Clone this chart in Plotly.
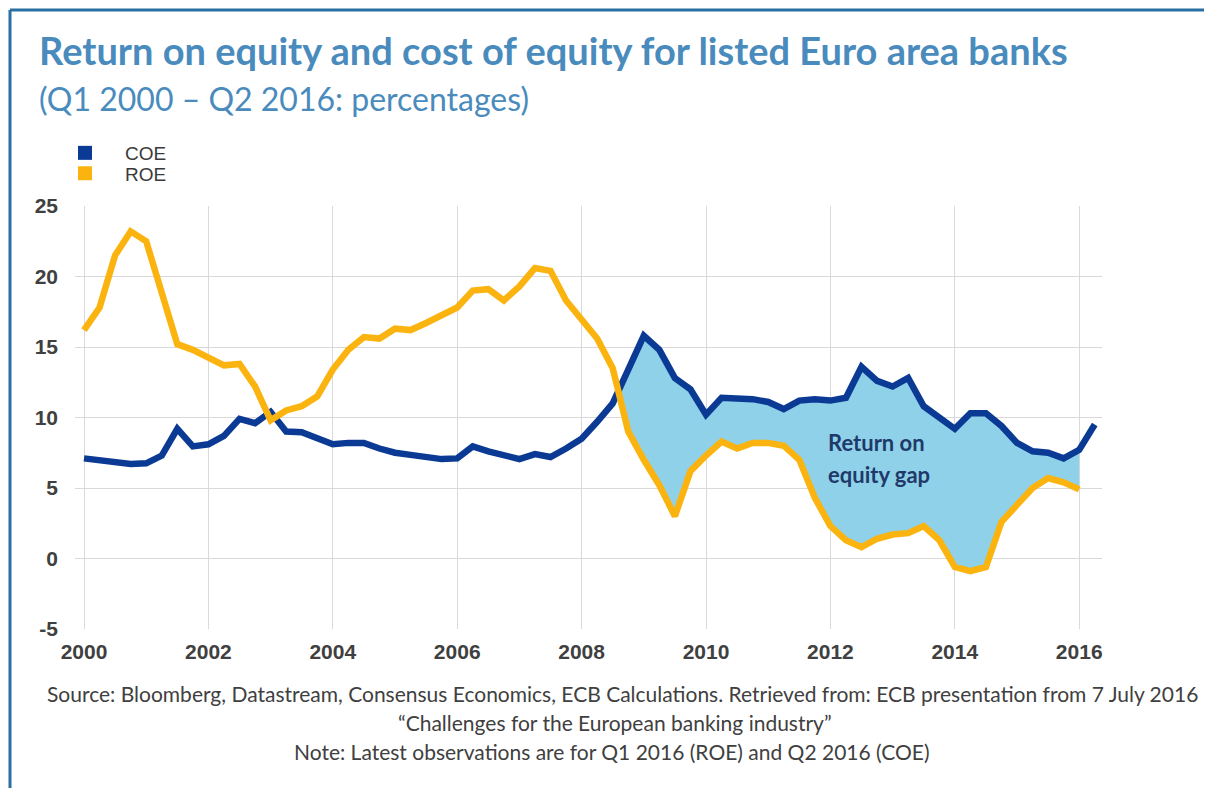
import plotly.graph_objects as go

# ---- data (quarterly, Q1 2000 onwards) ----
start_year = 2000
coe = [7.1, 7.0, 6.85, 6.7, 6.75, 7.3, 9.2, 7.95, 8.1, 8.7,
       9.9, 9.6, 10.4, 9.0, 8.95, 8.5, 8.1, 8.2, 8.2, 7.8,
       7.5, 7.35, 7.25, 7.05, 7.1, 7.95, 7.6, 7.3, 7.05, 7.4,
       7.2, 7.8, 8.5, 9.7, 11.0, 13.4, 15.8, 14.8, 12.8, 12.0,
       10.2, 11.4, 11.4, 11.3, 11.1, 10.6, 11.2, 11.3, 11.2, 11.4,
       13.6, 12.6, 12.2, 12.8, 10.8, 10.0, 9.2, 10.3, 10.3, 9.4,
       8.2, 7.6, 7.5, 7.1, 7.7, 9.5]
roe = [16.2, 17.8, 21.5, 23.2, 22.5, 19.0, 15.2, 14.8, 14.2, 13.7,
       13.8, 12.2, 9.8, 10.5, 10.8, 11.5, 13.4, 14.8, 15.7, 15.6,
       16.3, 16.2, 16.7, 17.2, 17.8, 19.0, 19.1, 18.3, 19.3, 20.6,
       20.4, 18.3, 16.9, 15.6, 13.5, 9.0, 7.0, 5.2, 3.0, 6.2,
       7.3, 8.3, 7.8, 8.2, 8.2, 8.0, 7.0, 4.3, 2.3, 1.3,
       0.8, 1.4, 1.7, 1.8, 2.3, 1.3, -0.6, -0.9, -0.6, 2.6,
       3.8, 5.0, 5.7, 5.4, 4.9]
x_coe = [start_year + i / 4 for i in range(len(coe))]
x_roe = [start_year + i / 4 for i in range(len(roe))]

x_ticks = list(range(2000, 2017, 2))
y_ticks = [-5, 0, 5, 10, 15, 20, 25]

title = "Return on equity and cost of equity for listed Euro area banks"
subtitle = "(Q1 2000 \u2013 Q2 2016: percentages)"
gap_label = ["Return on", "equity gap"]
notes = [
    "Source: Bloomberg, Datastream, Consensus Economics, ECB Calculations. Retrieved from: ECB presentation from 7 July 2016",
    "\u201cChallenges for the European banking industry\u201d",
    "Note: Latest observations are for Q1 2016 (ROE) and Q2 2016 (COE)",
]

COE_C = "#0B3A94"
ROE_C = "#FBB40F"
FILL_C = "#8FD1E8"

# ---- gap region: from last crossing (COE rising above ROE) to end of ROE ----
cross_idx = None
for i in range(len(roe) - 1):
    if coe[i] <= roe[i] and coe[i + 1] > roe[i + 1]:
        cross_idx = i
d0 = coe[cross_idx] - roe[cross_idx]
d1 = coe[cross_idx + 1] - roe[cross_idx + 1]
t = -d0 / (d1 - d0)
xc = x_roe[cross_idx] + t * 0.25
yc = roe[cross_idx] + t * (roe[cross_idx + 1] - roe[cross_idx])
gx = [xc] + x_roe[cross_idx + 1:]
g_low = [yc] + roe[cross_idx + 1:]
g_high = [yc] + coe[cross_idx + 1:len(roe)]

# ---- layout geometry (screen pixels; page body adds an 8px offset) ----
OFF = 8
W, H = 1212 - OFF, 796 - 2 * OFF
L, R, T, B = 75 - OFF, 1102 - OFF, 206 - OFF, 629 - OFF
PW, PH = R - L, B - T


def px(x):
    return (x - OFF - L) / PW


def py(y):
    return (B - (y - OFF)) / PH


x0 = 2000 - (84 - 75) / 62.2
x1 = 2000 + (1102 - 84) / 62.2

fig = go.Figure()
fig.add_trace(go.Scatter(x=gx, y=g_low, mode="lines", line=dict(width=0, color=FILL_C),
                         showlegend=False, hoverinfo="skip"))
fig.add_trace(go.Scatter(x=gx, y=g_high, mode="lines", line=dict(width=0, color=FILL_C),
                         fill="tonexty", fillcolor=FILL_C, showlegend=False, hoverinfo="skip"))
fig.add_trace(go.Scatter(x=x_coe, y=coe, mode="lines", name="COE",
                         line=dict(color=COE_C, width=6.5), showlegend=False))
fig.add_trace(go.Scatter(x=x_roe, y=roe, mode="lines", name="ROE",
                         line=dict(color=ROE_C, width=6.5), showlegend=False))
# legend entries (square markers)
fig.add_trace(go.Scatter(x=[None], y=[None], mode="markers", name="COE", legend="legend",
                         marker=dict(symbol="square", size=14, color=COE_C)))
fig.add_trace(go.Scatter(x=[None], y=[None], mode="markers", name="ROE", legend="legend2",
                         marker=dict(symbol="square", size=14, color=ROE_C)))

annotations = [
    dict(text="<b>" + title + "</b>", x=px(37), y=py(50), xref="paper", yref="paper",
         xanchor="left", yanchor="middle", showarrow=False,
         font=dict(family="Lato", size=38, color="#4A8BBD")),
    dict(text=subtitle, x=px(37), y=py(99), xref="paper", yref="paper",
         xanchor="left", yanchor="middle", showarrow=False,
         font=dict(family="Lato", size=32, color="#4A8BBD")),
    dict(text="<b>" + gap_label[0] + "</b>", x=px(826), y=py(442), xref="paper", yref="paper",
         xanchor="left", yanchor="middle", showarrow=False,
         font=dict(family="Lato", size=22, color="#1F3A6A")),
    dict(text="<b>" + gap_label[1] + "</b>", x=px(826), y=py(474), xref="paper", yref="paper",
         xanchor="left", yanchor="middle", showarrow=False,
         font=dict(family="Lato", size=22, color="#1F3A6A")),
]
for k, (txt, cx) in enumerate(zip(notes, [622, 615, 612])):
    annotations.append(dict(text=txt, x=px(cx), y=py(693 + 29 * k), xref="paper", yref="paper",
                            xanchor="center", yanchor="middle", showarrow=False,
                            font=dict(family="Lato", size=21, color="#404040")))

frame_c = "#2A6FA3"
shapes = [
    dict(type="line", xref="paper", yref="paper", x0=px(10), x1=px(1206), y0=py(10), y1=py(10),
         line=dict(color=frame_c, width=3)),
    dict(type="line", xref="paper", yref="paper", x0=px(10), x1=px(10), y0=py(10), y1=py(800),
         line=dict(color=frame_c, width=3)),
    dict(type="line", xref="paper", yref="paper", x0=px(1206), x1=px(1206), y0=py(10), y1=py(800),
         line=dict(color=frame_c, width=3)),
]

leg_font = dict(family="Liberation Sans", size=19, color="#3a3a3a")
leg_common = dict(xanchor="left", yanchor="middle", font=leg_font, itemwidth=70,
                  bgcolor="rgba(0,0,0,0)", borderwidth=0)
tick_font = dict(family="Liberation Sans", size=21, color="#404040", weight="bold")
fig.update_layout(
    width=W, height=H,
    margin=dict(l=L, r=W - R, t=T, b=H - B, autoexpand=False),
    paper_bgcolor="white", plot_bgcolor="white",
    showlegend=True,
    legend=dict(x=px(45), y=py(153), **leg_common),
    legend2=dict(x=px(45), y=py(173.5), **leg_common),
    annotations=annotations,
    shapes=shapes,
    xaxis=dict(range=[x0, x1], tickvals=x_ticks, ticktext=[str(v) for v in x_ticks],
               showgrid=True, gridcolor="#D9D9D9", gridwidth=1, zeroline=False,
               showline=False, ticks="", ticklabelstandoff=8, tickfont=tick_font),
    yaxis=dict(range=[-5, 25], tickvals=y_ticks, ticktext=[str(v) for v in y_ticks],
               showgrid=True, gridcolor="#D9D9D9", gridwidth=1, zeroline=False,
               showline=False, ticks="", ticklabelstandoff=16, tickfont=tick_font),
)

fig.write_html("out.html")
